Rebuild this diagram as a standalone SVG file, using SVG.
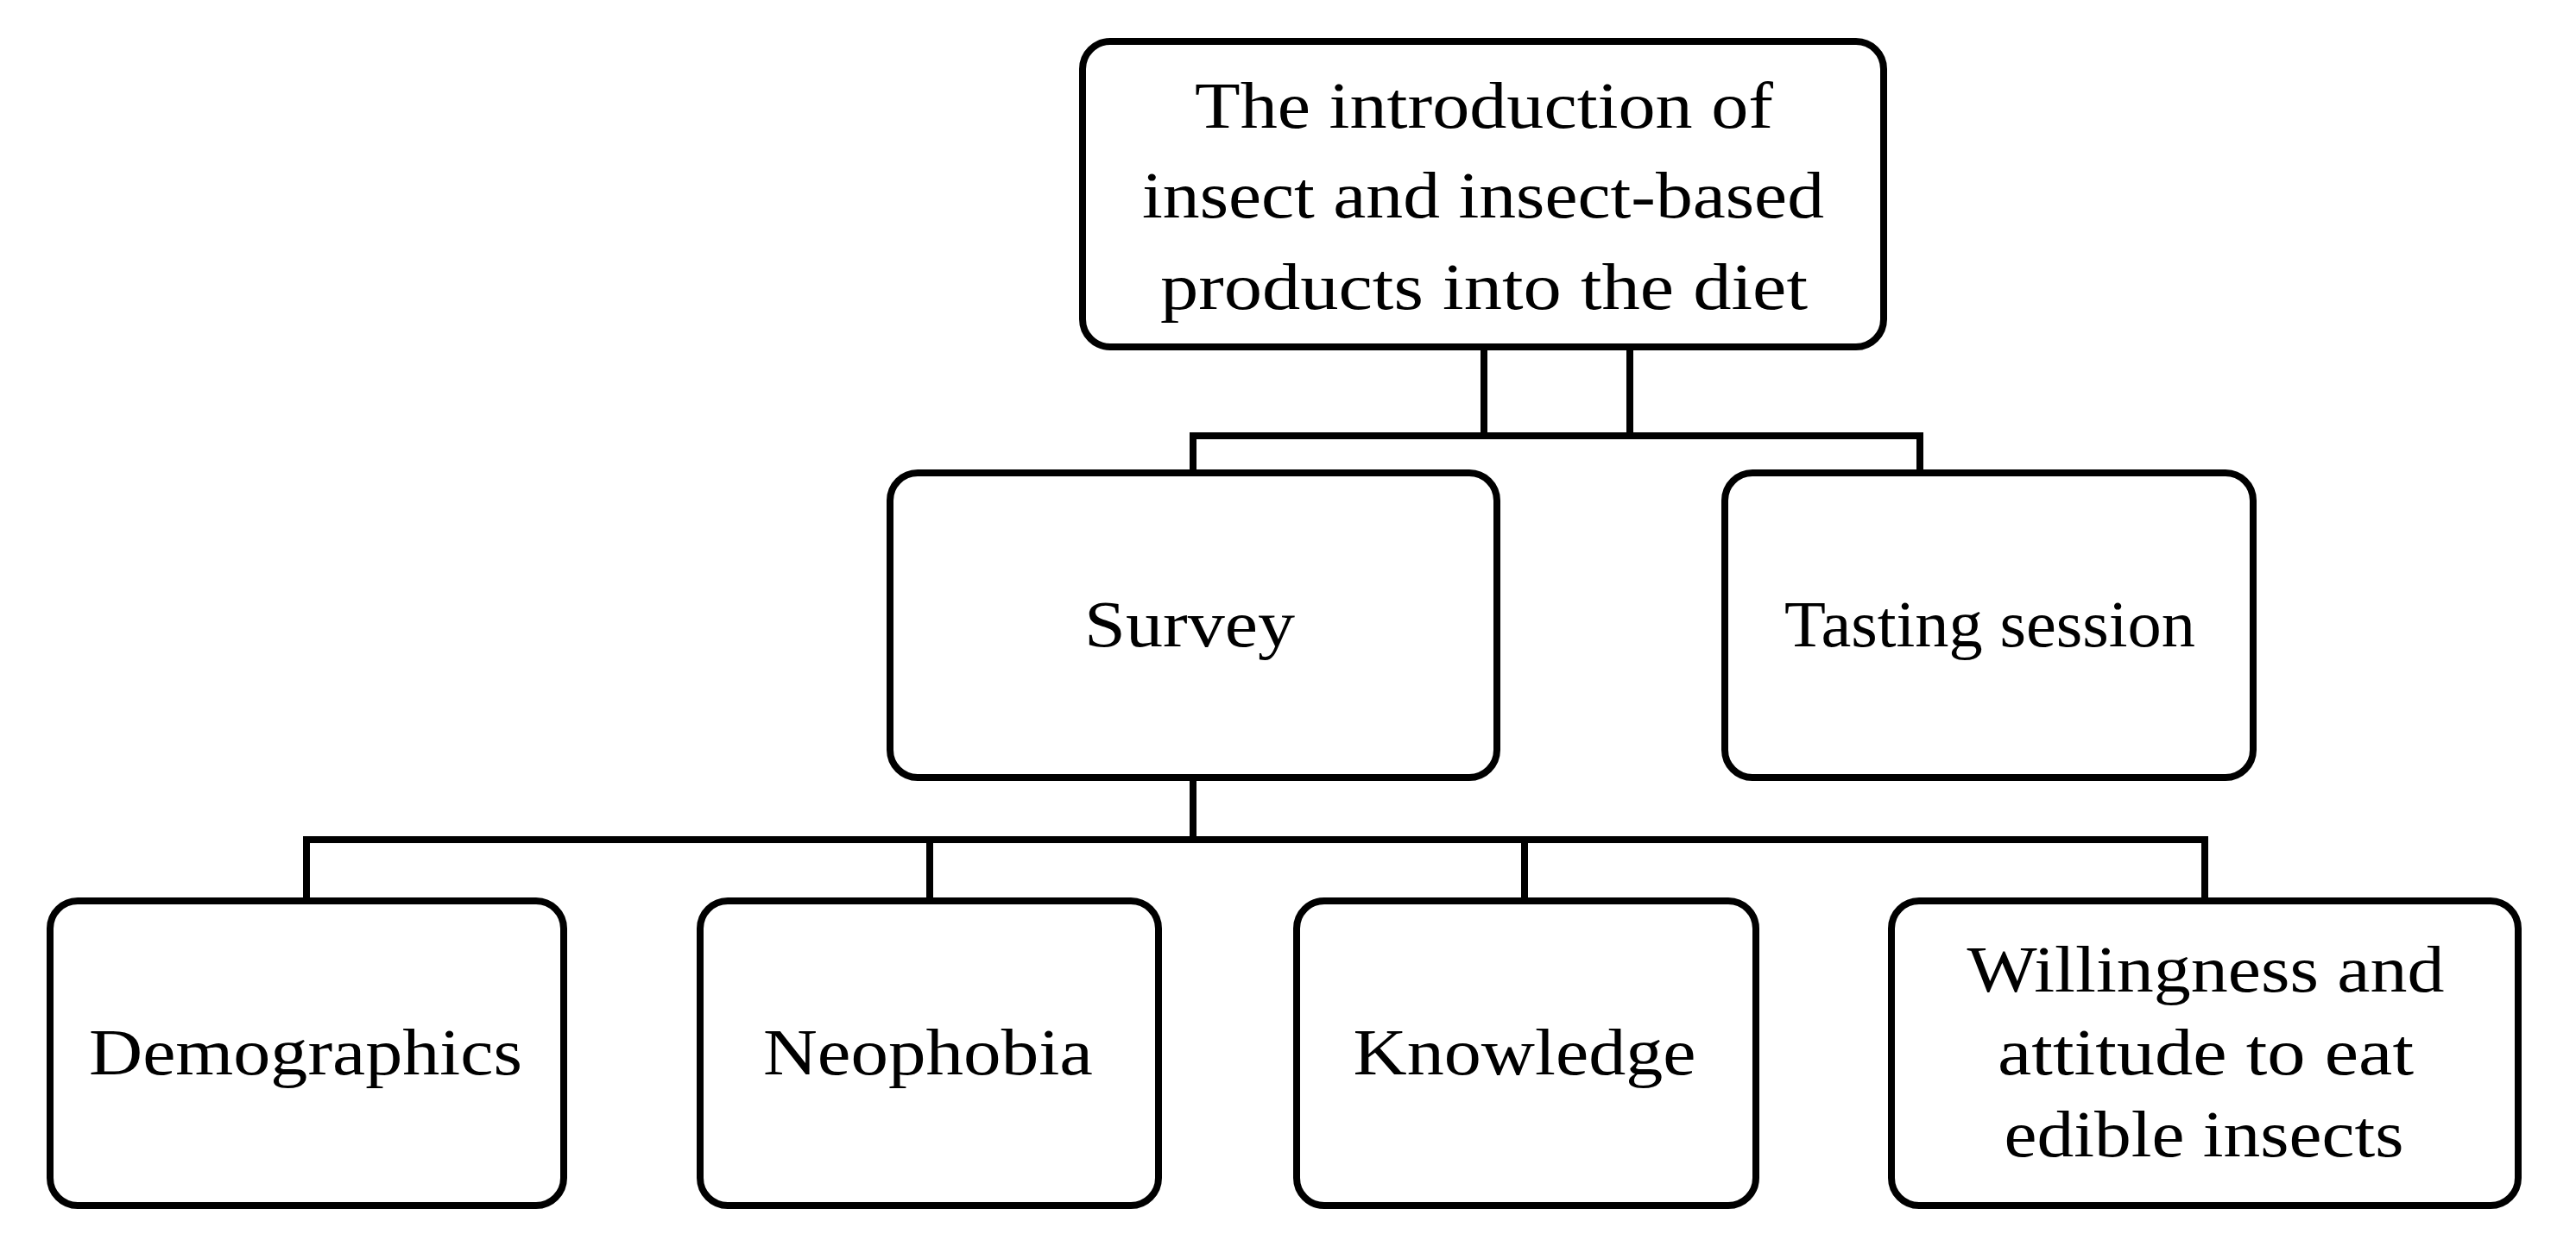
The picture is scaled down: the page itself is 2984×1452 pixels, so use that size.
<svg xmlns="http://www.w3.org/2000/svg" width="2984" height="1452" viewBox="0 0 2984 1452">
<style>
.box{fill:#fff;stroke:#000;stroke-width:8}
.conn{fill:none;stroke:#000;stroke-width:8;stroke-linecap:square}
.lbl{font-family:"Liberation Serif","Times New Roman",serif;font-size:76px;fill:#000;text-anchor:middle}
</style>
<rect width="2984" height="1452" fill="#fff"/>
<g id="connectors">
<path class="conn" d="M1719,402V505M1888,402V505M1382,505H2224M1382,505V548M2224,505V548"/>
<path class="conn" d="M1382,901V973M355,973H2554M355,973V1044M1077,973V1044M1766,973V1044M2554,973V1044"/>
</g>
<g id="n-root">
<rect class="box" x="1254" y="48" width="928" height="354" rx="32"/>
<text class="lbl" x="1719" y="148" textLength="670" lengthAdjust="spacingAndGlyphs">The introduction of</text>
<text class="lbl" x="1718" y="252" textLength="790" lengthAdjust="spacingAndGlyphs">insect and insect-based</text>
<text class="lbl" x="1719" y="358" textLength="750" lengthAdjust="spacingAndGlyphs">products into the diet</text>
</g>
<g id="n-survey">
<rect class="box" x="1031" y="548" width="703" height="353" rx="32"/>
<text class="lbl" x="1378" y="749" textLength="244" lengthAdjust="spacingAndGlyphs">Survey</text>
</g>
<g id="n-tasting">
<rect class="box" x="1998" y="548" width="612" height="353" rx="32"/>
<text class="lbl" x="2305" y="749" textLength="476" lengthAdjust="spacingAndGlyphs">Tasting session</text>
</g>
<g id="n-demographics">
<rect class="box" x="58" y="1044" width="595" height="353" rx="32"/>
<text class="lbl" x="354" y="1245" textLength="502" lengthAdjust="spacingAndGlyphs">Demographics</text>
</g>
<g id="n-neophobia">
<rect class="box" x="811" y="1044" width="531" height="353" rx="32"/>
<text class="lbl" x="1075" y="1245" textLength="382" lengthAdjust="spacingAndGlyphs">Neophobia</text>
</g>
<g id="n-knowledge">
<rect class="box" x="1502" y="1044" width="532" height="353" rx="32"/>
<text class="lbl" x="1766" y="1245" textLength="397" lengthAdjust="spacingAndGlyphs">Knowledge</text>
</g>
<g id="n-willingness">
<rect class="box" x="2191" y="1044" width="726" height="353" rx="32"/>
<text class="lbl" x="2555" y="1149" textLength="553" lengthAdjust="spacingAndGlyphs">Willingness and</text>
<text class="lbl" x="2555" y="1245" textLength="482" lengthAdjust="spacingAndGlyphs">attitude to eat</text>
<text class="lbl" x="2553" y="1340" textLength="463" lengthAdjust="spacingAndGlyphs">edible insects</text>
</g>
</svg>
